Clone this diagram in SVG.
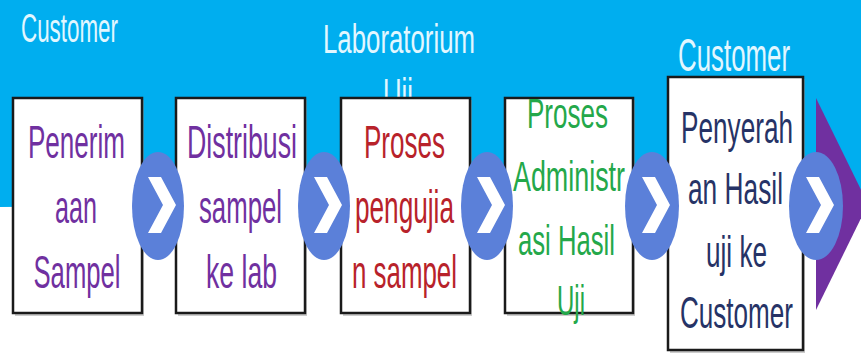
<svg xmlns="http://www.w3.org/2000/svg" width="861" height="353" viewBox="0 0 861 353">
<style>
.bx{fill:#ffffff;stroke:#1a1a1a;stroke-width:2.5}
.sh{fill:#9a9a9a;opacity:0.5}
.t{font-family:"Liberation Sans",Arial,sans-serif;text-anchor:middle}
.lbl{fill:#e2f7ff;font-size:40px}
.bt{font-size:46px}
.c{fill:#5b80d9}
.ch{fill:#ffffff}
</style>
<defs>
<g id="chev"><polygon points="-11,-28 2,-28 17,0 2,28 -11,28 4,0"/></g>
</defs>
<rect x="0" y="0" width="861" height="353" fill="#ffffff"/>
<path d="M0,0 H861 V200 L0,207 Z" fill="#00aeef"/>
<polygon points="816,98 868,204 816,310" fill="#7030a0"/>
<g id="labels">
<text class="t lbl" x="69.5" y="42" textLength="97" lengthAdjust="spacingAndGlyphs">Customer</text>
<text class="t lbl" x="399" y="53" textLength="152" lengthAdjust="spacingAndGlyphs">Laboratorium</text>
<text class="t lbl" x="398" y="107" textLength="30" lengthAdjust="spacingAndGlyphs">Uji</text>
<text class="t lbl" x="734" y="71" font-size="46" style="font-size:46px" textLength="112" lengthAdjust="spacingAndGlyphs">Customer</text>
</g>
<g id="node1">
<rect class="sh" x="15" y="100" width="129" height="216"/>
<rect class="bx" x="13" y="98" width="129" height="215"/>
<g class="t bt" fill="#7030a0">
<text x="76.5" y="158" textLength="97" lengthAdjust="spacingAndGlyphs">Penerim</text>
<text x="76" y="223" textLength="42" lengthAdjust="spacingAndGlyphs">aan</text>
<text x="77" y="288" textLength="87" lengthAdjust="spacingAndGlyphs">Sampel</text>
</g>
</g>
<g id="node2">
<rect class="sh" x="178" y="100" width="129" height="216"/>
<rect class="bx" x="176" y="98" width="129" height="215"/>
<g class="t bt" fill="#7030a0">
<text x="242" y="158" textLength="110" lengthAdjust="spacingAndGlyphs">Distribusi</text>
<text x="240.5" y="223" textLength="83" lengthAdjust="spacingAndGlyphs">sampel</text>
<text x="241.5" y="288" textLength="71" lengthAdjust="spacingAndGlyphs">ke lab</text>
</g>
</g>
<g id="node3">
<rect class="sh" x="343" y="100" width="129" height="216"/>
<rect class="bx" x="341" y="98" width="129" height="215"/>
<g class="t bt" fill="#b8222a">
<text x="404.5" y="158" textLength="81" lengthAdjust="spacingAndGlyphs">Proses</text>
<text x="404.5" y="223" textLength="99" lengthAdjust="spacingAndGlyphs">pengujia</text>
<text x="404.5" y="288" textLength="105" lengthAdjust="spacingAndGlyphs">n sampel</text>
</g>
</g>
<g id="node4">
<rect class="sh" x="507" y="100" width="128" height="216"/>
<rect class="bx" x="505" y="98" width="128" height="215"/>
<g class="t" style="font-size:43px" fill="#24a84a">
<text x="567.5" y="128" textLength="81" lengthAdjust="spacingAndGlyphs">Proses</text>
<text x="569" y="191" textLength="112" lengthAdjust="spacingAndGlyphs">Administr</text>
<text x="566.5" y="255" textLength="97" lengthAdjust="spacingAndGlyphs">asi Hasil</text>
<text x="571" y="315" textLength="28" lengthAdjust="spacingAndGlyphs">Uji</text>
</g>
</g>
<g id="node5">
<rect class="sh" x="670" y="79" width="135" height="274"/>
<rect class="bx" x="668" y="77" width="135" height="273"/>
<g class="t" style="font-size:45px" fill="#263366">
<text x="737" y="143" textLength="112" lengthAdjust="spacingAndGlyphs">Penyerah</text>
<text x="735.5" y="204" textLength="95" lengthAdjust="spacingAndGlyphs">an Hasil</text>
<text x="736.5" y="267" textLength="61" lengthAdjust="spacingAndGlyphs">uji ke</text>
<text x="736.5" y="328" textLength="113" lengthAdjust="spacingAndGlyphs">Customer</text>
</g>
</g>
<g id="connectors">
<ellipse class="c" cx="158" cy="206" rx="26" ry="54"/>
<use href="#chev" class="ch" x="159" y="205"/>
<ellipse class="c" cx="324" cy="206" rx="26" ry="54"/>
<use href="#chev" class="ch" x="325" y="205"/>
<ellipse class="c" cx="487" cy="206" rx="26" ry="54"/>
<use href="#chev" class="ch" x="488" y="205"/>
<ellipse class="c" cx="652" cy="206" rx="27" ry="54"/>
<use href="#chev" class="ch" x="653" y="205"/>
<ellipse class="c" cx="816" cy="206" rx="27" ry="54"/>
<use href="#chev" class="ch" x="817" y="205"/>
</g>
</svg>
